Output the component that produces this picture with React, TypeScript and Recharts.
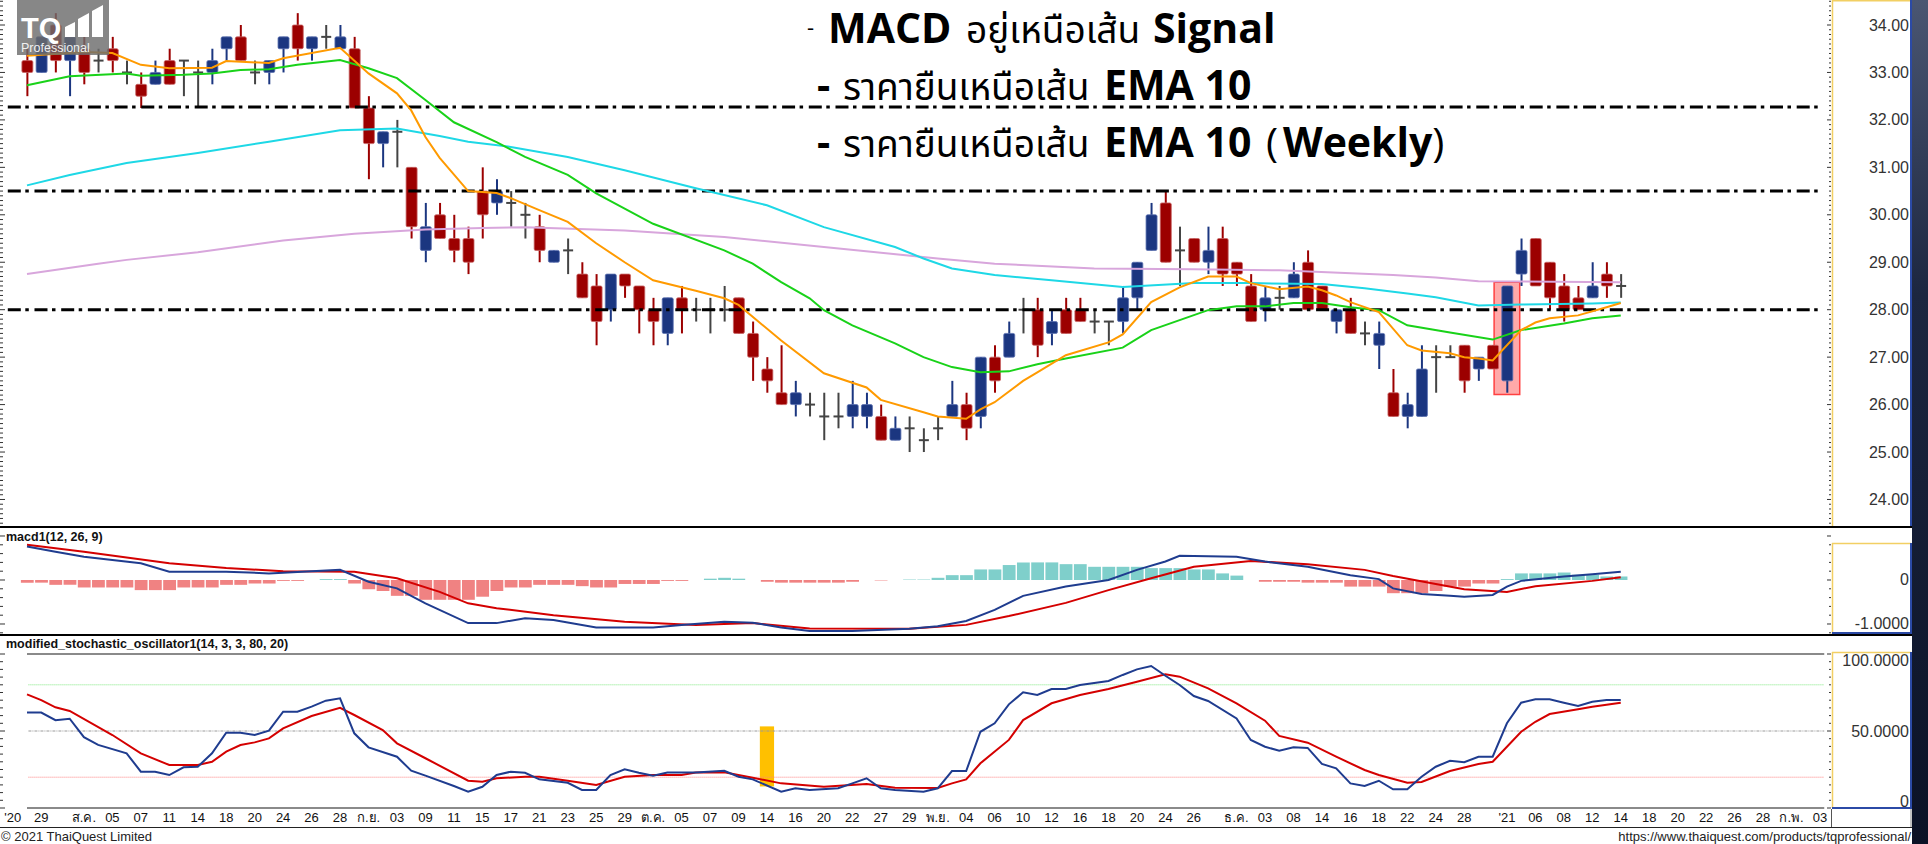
import React from "react";
import {
  ComposedChart,
  Bar,
  Line,
  XAxis,
  YAxis,
  ReferenceLine,
  ReferenceArea,
  Cell,
} from "recharts";

// ---------- price candles (one per trading day, slot 0 .. 112) ----------
const candleOpen = [
  33.25, 33.0, 34.0, 33.25, 33.5, 33.25, 33.5, 33.0, 32.75, 32.75,
  33.25, 33.25, 33.0, 33.0, 33.5, 33.75, 33.0, 33.0, 33.5, 34.0,
  33.5, 33.75, 33.5, 33.5, 32.25, 31.5, 31.75, 31.0, 29.25, 30.0,
  29.5, 29.5, 30.5, 30.25, 30.25, 30.0, 29.75, 29.0, 29.25, 28.75,
  28.5, 28.0, 28.75, 28.5, 28.0, 27.5, 28.25, 28.0, 28.0, 28.0,
  28.25, 27.5, 26.75, 26.25, 26.0, 26.0, 25.75, 25.75, 25.75, 25.75,
  25.75, 25.25, 25.5, 25.25, 25.5, 25.75, 26.0, 25.75, 27.0, 27.0,
  28.0, 28.0, 27.5, 28.0, 28.0, 27.75, 27.75, 27.75, 28.25, 29.25,
  30.25, 29.25, 29.5, 29.0, 29.5, 29.0, 28.5, 28.0, 28.25, 28.25,
  29.0, 28.5, 27.75, 28.0, 27.5, 27.25, 26.25, 25.75, 25.75, 27.0,
  27.0, 27.25, 26.75, 27.25, 26.5, 28.75, 29.5, 29.0, 28.5, 28.25,
  28.25, 28.75, 28.5,
];
const candleHigh = [
  33.5, 33.75, 34.25, 33.75, 33.75, 33.5, 33.75, 33.25, 33.0, 33.25,
  33.5, 33.25, 33.25, 33.5, 33.75, 34.0, 33.25, 33.25, 33.75, 34.25,
  33.75, 34.0, 34.0, 33.75, 32.5, 31.75, 32.0, 31.0, 30.25, 30.25,
  30.0, 29.75, 31.0, 30.75, 30.5, 30.25, 30.0, 29.25, 29.5, 29.0,
  28.75, 28.75, 28.75, 28.5, 28.25, 28.25, 28.5, 28.25, 28.25, 28.5,
  28.25, 27.75, 27.0, 27.25, 26.5, 26.25, 26.25, 26.25, 26.5, 26.25,
  26.0, 25.75, 25.75, 25.5, 25.75, 26.5, 26.25, 27.0, 27.25, 27.75,
  28.25, 28.25, 28.0, 28.25, 28.25, 28.0, 27.75, 28.5, 29.0, 30.25,
  30.5, 29.75, 29.5, 29.75, 29.75, 29.0, 28.75, 28.5, 28.5, 29.0,
  29.25, 28.5, 28.0, 28.25, 27.75, 27.75, 26.75, 26.25, 27.25, 27.25,
  27.25, 27.25, 27.0, 27.25, 28.5, 29.5, 29.5, 29.0, 28.75, 28.5,
  29.0, 29.0, 28.75,
];
const candleLow = [
  32.5, 33.0, 33.0, 32.5, 32.75, 33.0, 33.0, 32.75, 32.25, 32.75,
  32.75, 32.5, 32.25, 32.75, 33.25, 33.25, 32.75, 32.75, 33.0, 33.25,
  33.25, 33.5, 33.5, 32.25, 30.75, 31.0, 31.0, 29.5, 29.0, 29.5,
  29.0, 28.75, 29.5, 30.0, 29.75, 29.5, 29.0, 29.0, 28.75, 28.25,
  27.25, 27.75, 28.25, 27.5, 27.25, 27.25, 27.5, 27.75, 27.5, 27.75,
  27.5, 26.5, 26.25, 26.0, 25.75, 25.75, 25.25, 25.5, 25.5, 25.5,
  25.25, 25.25, 25.0, 25.0, 25.25, 25.75, 25.25, 25.5, 26.25, 27.0,
  27.5, 27.0, 27.25, 27.5, 27.75, 27.5, 27.25, 27.5, 28.0, 29.25,
  29.0, 28.5, 29.0, 28.75, 28.5, 28.5, 27.75, 27.75, 28.0, 28.25,
  28.0, 28.0, 27.5, 27.5, 27.25, 26.75, 25.75, 25.5, 25.75, 26.25,
  27.0, 26.25, 26.5, 26.75, 26.25, 28.5, 28.5, 28.0, 27.75, 28.0,
  28.25, 28.25, 28.25,
];
const candleClose = [
  33.0, 33.75, 33.25, 33.75, 33.0, 33.25, 33.25, 33.0, 32.5, 33.0,
  32.75, 33.25, 33.0, 33.25, 33.75, 33.25, 33.0, 33.25, 33.75, 33.5,
  33.75, 33.75, 33.75, 32.25, 31.5, 31.75, 31.75, 29.75, 29.75, 29.5,
  29.25, 29.0, 30.0, 30.5, 30.25, 30.0, 29.25, 29.25, 29.25, 28.25,
  27.75, 28.75, 28.5, 28.0, 27.75, 28.25, 28.0, 28.0, 28.0, 28.0,
  27.5, 27.0, 26.5, 26.0, 26.25, 26.0, 25.75, 25.75, 26.0, 26.0,
  25.25, 25.5, 25.5, 25.25, 25.5, 26.0, 25.5, 27.0, 26.5, 27.5,
  28.0, 27.25, 27.75, 27.5, 27.75, 27.75, 27.75, 28.25, 29.0, 30.0,
  29.0, 29.25, 29.0, 29.25, 28.75, 28.75, 27.75, 28.25, 28.25, 28.75,
  28.0, 28.0, 28.0, 27.5, 27.5, 27.5, 25.75, 26.0, 26.75, 27.0,
  27.0, 26.5, 27.0, 26.75, 28.5, 29.25, 28.5, 28.25, 28.0, 28.0,
  28.5, 28.5, 28.5,
];

// ---------- moving averages, read at [slot, value] ----------
const emaOrange: [number, number][] = [
  [0, 33.35], [4, 33.43], [6, 33.41], [8, 33.16], [10, 33.09], [13, 33.1], [14, 33.24],
  [17, 33.2], [18, 33.3], [22, 33.52], [24, 32.98], [26, 32.56], [27, 32.2], [28, 31.64],
  [29, 31.2], [31, 30.5], [33, 30.46], [34, 30.35], [36, 30.1], [38, 29.85], [40, 29.4],
  [42, 29.0], [44, 28.62], [47, 28.4], [49, 28.24], [50, 28.1], [53, 27.35], [56, 26.66],
  [59, 26.36], [60, 26.1], [63, 25.84], [64, 25.75], [66, 25.7], [67, 25.9], [68, 26.05],
  [70, 26.5], [71, 26.68], [73, 27.04], [76, 27.31], [77, 27.48], [79, 28.16], [81, 28.47],
  [83, 28.7], [85, 28.7], [86, 28.56], [88, 28.43], [90, 28.49], [91, 28.41], [92, 28.3],
  [93, 28.16], [95, 27.95], [97, 27.25], [98, 27.14], [100, 27.08], [101, 27.0],
  [102, 26.97], [103, 26.93], [105, 27.57], [106, 27.73], [107, 27.82], [109, 27.88],
  [111, 28.05], [112, 28.14],
];
const emaGreen: [number, number][] = [
  [0, 32.73], [3, 32.92], [7, 32.98], [8, 32.93], [11, 32.95], [13, 32.98], [15, 33.05],
  [17, 33.07], [19, 33.16], [22, 33.26], [24, 33.09], [26, 32.88], [28, 32.42], [30, 31.95],
  [33, 31.53], [35, 31.22], [38, 30.84], [40, 30.45], [44, 29.81], [49, 29.25], [51, 28.97],
  [53, 28.58], [55, 28.24], [56, 27.99], [58, 27.67], [61, 27.29], [63, 27.0], [65, 26.79],
  [67, 26.68], [69, 26.7], [71, 26.85], [73, 26.97], [77, 27.2], [79, 27.57], [83, 27.99],
  [85, 28.07], [87, 28.07], [89, 28.14], [91, 28.14], [93, 28.05], [95, 27.99], [97, 27.67],
  [100, 27.52], [103, 27.37], [105, 27.57], [108, 27.71], [110, 27.82], [112, 27.88],
];
const emaCyan: [number, number][] = [
  [0, 30.62], [3, 30.84], [7, 31.09], [12, 31.3], [17, 31.54], [22, 31.78], [26, 31.82],
  [29, 31.66], [31, 31.54], [34, 31.43], [38, 31.22], [42, 30.94], [47, 30.56], [52, 30.2],
  [56, 29.74], [61, 29.32], [63, 29.08], [65, 28.87], [68, 28.73], [72, 28.62], [77, 28.48],
  [82, 28.56], [86, 28.56], [91, 28.54], [94, 28.45], [97, 28.34], [99, 28.26], [102, 28.09],
  [105, 28.11], [110, 28.13], [112, 28.15],
];
const emaPink: [number, number][] = [
  [0, 28.75], [5, 28.97], [7, 29.05], [12, 29.21], [18, 29.46], [23, 29.6], [28, 29.69],
  [32, 29.72], [35, 29.74], [42, 29.67], [49, 29.53], [56, 29.32], [64, 29.08], [68, 28.97],
  [75, 28.87], [82, 28.85], [88, 28.83], [96, 28.73], [99, 28.68], [102, 28.6], [112, 28.58],
];

// ---------- MACD(12, 26, 9) ----------
const macdLine: [number, number][] = [
  [0, 0.76], [2, 0.64], [4, 0.53], [8, 0.38], [10, 0.19], [14, 0.19], [17, 0.15], [20, 0.2],
  [22, 0.23], [24, -0.04], [26, -0.19], [28, -0.53], [31, -0.98], [33, -0.98], [35, -0.87],
  [37, -0.91], [40, -1.08], [44, -1.08], [46, -1.02], [49, -0.95], [51, -0.97], [53, -1.08],
  [55, -1.16], [58, -1.16], [62, -1.11], [64, -1.05], [66, -0.93], [68, -0.68], [70, -0.36],
  [73, -0.15], [76, 0.0], [78, 0.23], [80, 0.42], [81, 0.55], [85, 0.53], [87, 0.42],
  [90, 0.3], [93, 0.11], [95, 0.02], [96, -0.19], [98, -0.32], [100, -0.36], [101, -0.38],
  [103, -0.34], [104, -0.15], [105, -0.02], [108, 0.08], [110, 0.13], [112, 0.19],
];
const signalLine: [number, number][] = [
  [0, 0.8], [4, 0.64], [10, 0.38], [14, 0.27], [18, 0.2], [23, 0.19], [26, 0.04],
  [29, -0.27], [31, -0.53], [33, -0.64], [37, -0.8], [42, -0.95], [47, -1.02], [51, -0.98],
  [55, -1.1], [62, -1.11], [66, -1.02], [69, -0.82], [73, -0.52], [76, -0.23], [79, 0.04],
  [82, 0.3], [86, 0.43], [90, 0.36], [94, 0.23], [96, 0.09], [99, -0.09], [101, -0.21],
  [104, -0.27], [106, -0.14], [110, -0.02], [112, 0.06],
];
const macdHist = [
  -0.06, -0.06, -0.11, -0.11, -0.17, -0.17, -0.17, -0.17, -0.23, -0.23,
  -0.23, -0.17, -0.17, -0.17, -0.11, -0.11, -0.08, -0.08, -0.02, -0.02,
  0, 0.02, 0.02, -0.08, -0.21, -0.25, -0.36, -0.36, -0.45, -0.45,
  -0.45, -0.45, -0.38, -0.25, -0.17, -0.17, -0.11, -0.11, -0.11, -0.14,
  -0.17, -0.17, -0.09, -0.09, -0.09, -0.02, -0.02, 0, 0.03, 0.05,
  0.03, 0, -0.04, -0.06, -0.06, -0.06, -0.06, -0.06, -0.04, 0,
  -0.01, 0, 0.01, 0.01, 0.05, 0.11, 0.11, 0.24, 0.24, 0.34,
  0.4, 0.4, 0.4, 0.36, 0.36, 0.3, 0.3, 0.3, 0.3, 0.27,
  0.27, 0.27, 0.24, 0.24, 0.15, 0.1, 0, -0.04, -0.04, -0.04,
  -0.06, -0.06, -0.06, -0.15, -0.15, -0.15, -0.3, -0.3, -0.3, -0.25,
  -0.15, -0.15, -0.08, -0.08, 0.02, 0.15, 0.15, 0.15, 0.17, 0.12,
  0.12, 0.08, 0.08,
];

// ---------- modified stochastic (14, 3, 3, 80, 20) ----------
const stochK: [number, number][] = [
  [0, 62], [1, 62], [2, 57], [3, 58], [4, 46], [5, 41], [7, 35.5], [8, 23.6], [9, 23.6],
  [10, 21.4], [11, 26.4], [12, 26.8], [13, 35.5], [14, 48.9], [15, 48.9], [16, 47.4],
  [17, 50.2], [18, 62.5], [19, 62.5], [20, 65.8], [21, 69.7], [22, 71.2], [23, 48.5],
  [24, 39.4], [26, 33.3], [27, 24.2], [28, 21], [30, 14.3], [31, 10.6], [32, 13.8],
  [33, 21.4], [34, 23.6], [35, 22.9], [36, 18.6], [38, 16.4], [39, 11.7], [40, 11.7],
  [41, 21.4], [42, 25.1], [43, 22.9], [44, 21], [45, 23], [47, 23], [49, 24.2], [50, 20.3],
  [51, 18.6], [53, 10.6], [54, 12.8], [55, 11.7], [57, 12.8], [58, 16], [59, 19.3],
  [60, 12.8], [61, 11.7], [63, 10.6], [64, 12.8], [65, 24], [66, 24], [67, 49.5], [68, 55],
  [69, 67.3], [70, 75.1], [71, 73.4], [72, 77.3], [73, 77.3], [74, 79.9], [76, 82.5],
  [77, 86.4], [78, 90], [79, 92.2], [80, 85.9], [81, 79.9], [82, 72.7], [83, 69.5],
  [85, 58.2], [86, 44.2], [87, 39.8], [88, 37.2], [89, 39.4], [90, 39], [91, 28.6],
  [92, 25.8], [93, 16], [94, 14.3], [95, 17.7], [96, 12.1], [97, 12.1], [98, 20.3],
  [99, 26.8], [100, 30.7], [101, 29.7], [102, 33.3], [103, 33.3], [104, 55], [105, 68.4],
  [106, 70.6], [107, 70.6], [108, 68.4], [109, 66.2], [110, 69], [111, 70.1], [112, 70.1],
];
const stochD: [number, number][] = [
  [0, 73.8], [1, 70.1], [2, 65.4], [3, 63], [6, 47.4], [8, 35.5], [10, 27.9], [12, 27.9],
  [13, 30], [14, 36.6], [15, 40.9], [16, 42.6], [17, 45.2], [18, 51.7], [20, 59.7],
  [22, 65.1], [23, 60.4], [25, 50.6], [26, 42], [28, 32.3], [31, 17.7], [32, 17.1],
  [33, 19.3], [35, 20.3], [36, 20.3], [38, 17.7], [40, 14.9], [42, 20.3], [44, 21.4],
  [46, 21.4], [47, 23], [49, 23.2], [51, 19.7], [53, 16], [56, 13.8], [59, 15.6], [61, 13.2],
  [64, 13], [65, 16], [66, 18.6], [67, 29], [69, 44.2], [70, 57.1], [72, 68], [74, 73.4],
  [76, 77.3], [78, 82], [80, 86.8], [81, 85.3], [83, 77.7], [85, 68], [87, 56.7], [88, 46.8],
  [90, 42.4], [92, 33.3], [94, 24.7], [95, 21.4], [97, 16.4], [98, 16.9], [100, 24],
  [102, 28.6], [103, 30], [105, 49.5], [106, 56], [107, 61], [109, 64.1], [110, 65.8],
  [112, 68.4],
];

// ---------- axes ----------
const priceLevels = [32.27, 30.5, 28.0];
const macdLabelled = [0, -1];
const stochLabelled = [0, 50, 100];
const xTickLabels = [
  "'20", "29", "ส.ค.", "05", "07", "11", "14", "18", "20", "24", "26", "28", "ก.ย.", "03",
  "09", "11", "15", "17", "21", "23", "25", "29", "ต.ค.", "05", "07", "09", "14", "16", "20",
  "22", "27", "29", "พ.ย.", "04", "06", "10", "12", "16", "18", "20", "24", "26", "ธ.ค.",
  "03", "08", "14", "16", "18", "22", "24", "28", "'21", "06", "08", "12", "14", "18", "20",
  "22", "26", "28", "ก.พ.", "03",
];
const xTickSlots = [
  -1, 1, 4, 6, 8, 10, 12, 14, 16, 18, 20, 22, 24, 26, 28, 30, 32, 34, 36, 38, 40, 42, 44,
  46, 48, 50, 52, 54, 56, 58, 60, 62, 64, 66, 68, 70, 72, 74, 76, 78, 80, 82, 85, 87, 89,
  91, 93, 95, 97, 99, 101, 104, 106, 108, 110, 112, 114, 116, 118, 120, 122, 124, 126,
];

// ---------- layout ----------
const CHART_W = 1912;
const AXIS_W = 80;
const XMIN = -1.8974;
const XMAX = 126.845;
const AXIS_FONT = "'Liberation Sans', Arial, sans-serif";
const TITLE_FONT = "'Open Sans', 'Noto Sans Thai', Tahoma, 'Noto Sans', sans-serif";

const toPoints = (knots: [number, number][]) => knots.map(([slot, v]) => ({ slot, v }));

const priceRows = candleOpen.map((open, i) => ({
  slot: i,
  open,
  high: candleHigh[i],
  low: candleLow[i],
  close: candleClose[i],
}));
const histRows = macdHist.map((hist, i) => ({ slot: i, hist }));

const step = (from: number, to: number, by: number) => {
  const out: number[] = [];
  for (let v = from; v <= to + 1e-9; v += by) out.push(Math.round(v * 1000) / 1000);
  return out;
};

const Candle = (props: any) => {
  const { x, y, width, height, payload } = props;
  if (x == null || !payload) return null;
  const { open, close, high, low } = payload;
  const cx = x + width / 2;
  const top = Math.min(y, y + height);
  const bot = Math.max(y, y + height);
  const span = high - low;
  const py = (v: number) => (span === 0 ? top : top + ((high - v) / span) * (bot - top));
  const up = close > open;
  const down = close < open;
  const color = up ? "#1b3680" : down ? "#9c0000" : "#444444";
  const edge = up ? "#5a70b0" : down ? "#c86464" : "#444444";
  const bTop = py(Math.max(open, close));
  const bBot = py(Math.min(open, close));
  return (
    <g>
      <line x1={cx} x2={cx} y1={top} y2={bot} stroke={color} strokeWidth={2} />
      {up || down ? (
        <rect
          x={cx - 5.5}
          y={bTop}
          width={11}
          height={Math.max(1, bBot - bTop)}
          fill={color}
          stroke={edge}
          strokeWidth={0.8}
          rx={1.5}
        />
      ) : (
        <line x1={cx - 5} x2={cx + 5} y1={bTop} y2={bTop} stroke={color} strokeWidth={2} />
      )}
    </g>
  );
};

const near = (a: number, b: number) => Math.abs(a - b) < 1e-6;

const makeRightTick =
  (
    isLabelled: (v: number) => boolean,
    isMajor: (v: number) => boolean,
    fmt: (v: number) => string,
    shift: (v: number) => number = () => 0,
  ) =>
  (props: any) => {
    const { x, y, payload } = props;
    const v = payload.value as number;
    const major = isMajor(v);
    return (
      <g>
        <line x1={x - (major ? 5 : 3)} x2={x - 1} y1={y} y2={y} stroke="#333" strokeWidth={1} />
        <line x1={0} x2={major ? 5 : 3} y1={y} y2={y} stroke="#333" strokeWidth={1} />
        {isLabelled(v) && (
          <text
            x={x + 77}
            y={y + shift(v)}
            textAnchor="end"
            dominantBaseline="central"
            fontFamily={AXIS_FONT}
            fontSize={16}
            fill="#333"
          >
            {fmt(v)}
          </text>
        )}
      </g>
    );
  };

const priceTick = makeRightTick(
  (v) => near(v, Math.round(v)) && v >= 24 && v <= 34,
  (v) => near(v, Math.round(v)),
  (v) => v.toFixed(2),
);
const macdTick = makeRightTick(
  (v) => macdLabelled.some((m) => near(m, v)),
  (v) => near(v, Math.round(v)),
  (v) => (near(v, 0) ? "0" : v.toFixed(4)),
);
const stochTick = makeRightTick(
  (v) => stochLabelled.some((m) => near(m, v)),
  (v) => near(v % 50, 0),
  (v) => (v === 0 ? "0" : v.toFixed(4)),
  (v) => (v === 100 ? 6 : v === 0 ? -7 : 0),
);

const labelBySlot = new Map(xTickSlots.map((s, i) => [s, xTickLabels[i]]));
const XTick = (props: any) => {
  const { x, y, payload } = props;
  return (
    <text x={x} y={y + 14} textAnchor="middle" fontFamily={AXIS_FONT} fontSize={13} fill="#111">
      {labelBySlot.get(payload.value)}
    </text>
  );
};

const dashDot = "13 4.5 3.5 5.7";

const SeriesLine = ({ knots, color }: { knots: [number, number][]; color: string }) => null;

export default function App() {
  const line = (knots: [number, number][], color: string, key: string) => (
    <Line
      key={key}
      data={toPoints(knots)}
      dataKey="v"
      stroke={color}
      strokeWidth={2}
      dot={false}
      activeDot={false}
      isAnimationActive={false}
    />
  );
  return (
    <div
      style={{
        position: "relative",
        width: 1928,
        height: 844,
        overflow: "hidden",
        background: "linear-gradient(180deg, #4a5672 0%, #1c2640 35%, #0b1226 100%)",
      }}
    >
      <style>{`body{margin:0}`}</style>
      <div style={{ position: "absolute", left: 0, top: 0, width: CHART_W, height: 844, background: "#fff" }} />

      {/* price panel */}
      <div style={{ position: "absolute", left: 0, top: 0 }}>
        <ComposedChart width={CHART_W} height={527} data={priceRows} margin={{ top: 0, right: 0, bottom: 0, left: 0 }}>
          <XAxis type="number" dataKey="slot" domain={[XMIN, XMAX]} allowDataOverflow hide />
          <YAxis
            orientation="right"
            width={AXIS_W}
            domain={[23.42, 34.527]}
            allowDataOverflow
            ticks={step(23.5, 34.5, 0.1)}
            interval={0}
            axisLine={false}
            tickLine={false}
            tickSize={0}
            tickMargin={0}
            tick={priceTick}
          />
          {priceLevels.map((p) => (
            <ReferenceLine
              key={p}
              segment={[
                { x: -1.35, y: p },
                { x: 126.2, y: p },
              ]}
              stroke="#000"
              strokeWidth={3}
              strokeDasharray={dashDot}
            />
          ))}
          {line(emaPink, "#d8a6dc", "pink")}
          {line(emaCyan, "#1ed8e6", "cyan")}
          <ReferenceArea
            x1={103.1}
            x2={104.9}
            y1={26.21}
            y2={28.58}
            fill="#ff7070"
            fillOpacity={0.6}
            stroke="#ff4040"
            strokeWidth={1.5}
          />
          <Bar
            dataKey={(r: any) => [r.low, r.high]}
            barSize={11}
            shape={<Candle />}
            isAnimationActive={false}
          />
          {line(emaGreen, "#19d219", "green")}
          {line(emaOrange, "#ff9a00", "orange")}
        </ComposedChart>
      </div>

      {/* MACD panel */}
      <div style={{ position: "absolute", left: 0, top: 527 }}>
        <ComposedChart width={CHART_W} height={108} data={histRows} margin={{ top: 0, right: 0, bottom: 0, left: 0 }}>
          <XAxis type="number" dataKey="slot" domain={[XMIN, XMAX]} allowDataOverflow hide />
          <YAxis
            orientation="right"
            width={AXIS_W}
            domain={[-1.25, 1.2045]}
            allowDataOverflow
            ticks={step(-1.2, 1.2, 0.2)}
            interval={0}
            axisLine={false}
            tickLine={false}
            tickSize={0}
            tickMargin={0}
            tick={macdTick}
          />
          <Bar dataKey="hist" barSize={14.5} isAnimationActive={false}>
            {histRows.map((r) => (
              <Cell key={r.slot} fill={r.hist >= 0 ? "#7fcfcb" : "#f08282"} />
            ))}
          </Bar>
          {line(signalLine, "#d40000", "signal")}
          {line(macdLine, "#1f3c8f", "macd")}
        </ComposedChart>
      </div>

      {/* stochastic panel */}
      <div style={{ position: "absolute", left: 0, top: 637 }}>
        <ComposedChart width={CHART_W} height={190} data={priceRows} margin={{ top: 0, right: 0, bottom: 0, left: 0 }}>
          <XAxis
            type="number"
            dataKey="slot"
            domain={[XMIN, XMAX]}
            allowDataOverflow
            ticks={xTickSlots}
            interval={0}
            height={19}
            axisLine={false}
            tickLine={false}
            tickSize={0}
            tickMargin={0}
            tick={<XTick />}
          />
          <YAxis
            orientation="right"
            width={AXIS_W}
            domain={[0, 111.04]}
            allowDataOverflow
            ticks={step(0, 100, 5)}
            interval={0}
            axisLine={false}
            tickLine={false}
            tickSize={0}
            tickMargin={0}
            tick={stochTick}
          />
          <ReferenceLine segment={[{ x: 0, y: 100 }, { x: 126.3, y: 100 }]} stroke="#8a8a8a" strokeWidth={2} />
          <ReferenceLine segment={[{ x: 0, y: 0 }, { x: 126.3, y: 0 }]} stroke="#8a8a8a" strokeWidth={2} />
          <ReferenceLine segment={[{ x: 0.1, y: 80 }, { x: 126.3, y: 80 }]} stroke="#7ee87e" strokeWidth={1} strokeDasharray="1 1" />
          <ReferenceLine segment={[{ x: 0.1, y: 50 }, { x: 126.3, y: 50 }]} stroke="#9a9a9a" strokeWidth={1} strokeDasharray="3 1 1 1" />
          <ReferenceLine segment={[{ x: 0.1, y: 20 }, { x: 126.3, y: 20 }]} stroke="#ff8080" strokeWidth={1} strokeDasharray="1 1" />
          <ReferenceArea x1={51.5} x2={52.5} y1={14} y2={53} fill="#ffc000" fillOpacity={1} stroke="none" />
          {line(stochD, "#d40000", "d")}
          {line(stochK, "#1f3c8f", "k")}
        </ComposedChart>
      </div>

      {/* frames, titles, logo, footer */}
      <svg width={1928} height={844} style={{ position: "absolute", left: 0, top: 0, pointerEvents: "none" }}>
        <rect x={0} y={526} width={1912} height={2} fill="#000" />
        <rect x={0} y={634} width={1912} height={2} fill="#000" />
        <rect x={0} y={827} width={1912} height={1} fill="#222" />

        <line x1={1832.5} x2={1832.5} y1={0} y2={526} stroke="#f2cf63" strokeWidth={1.5} />
        <line x1={1832} x2={1911} y1={0.75} y2={0.75} stroke="#f2cf63" strokeWidth={1.5} />
        <line x1={1911} x2={1911} y1={0} y2={526} stroke="#2b4aa6" strokeWidth={2} />

        <line x1={1832.5} x2={1832.5} y1={543} y2={634} stroke="#f2cf63" strokeWidth={1.5} />
        <line x1={1832} x2={1911} y1={543.5} y2={543.5} stroke="#f2cf63" strokeWidth={1.5} />
        <line x1={1911} x2={1911} y1={543} y2={634} stroke="#2b4aa6" strokeWidth={2} />
        <line x1={1832} x2={1912} y1={633} y2={633} stroke="#2b4aa6" strokeWidth={2} />

        <line x1={1832.5} x2={1832.5} y1={652} y2={808} stroke="#f2cf63" strokeWidth={1.5} />
        <line x1={1832} x2={1911} y1={652.5} y2={652.5} stroke="#f2cf63" strokeWidth={1.5} />
        <line x1={1911} x2={1911} y1={652} y2={809} stroke="#2b4aa6" strokeWidth={2} />
        <line x1={1832} x2={1912} y1={808} y2={808} stroke="#2b4aa6" strokeWidth={2} />
        <line x1={1831.5} x2={1831.5} y1={809} y2={827} stroke="#555" strokeWidth={1} />
        <line x1={1911} x2={1911} y1={809} y2={827} stroke="#888" strokeWidth={1} />

        <text x={6} y={541} fontFamily={AXIS_FONT} fontSize={12.5} fontWeight={700} fill="#111">
          macd1(12, 26, 9)
        </text>
        <text x={6} y={648} fontFamily={AXIS_FONT} fontSize={12.5} fontWeight={700} fill="#111">
          modified_stochastic_oscillator1(14, 3, 3, 80, 20)
        </text>

        <g fontFamily={TITLE_FONT} fill="#000" fontSize={41}>
          <text x={807} y={43}>
            <tspan fontSize={22} dy={-8}>-</tspan>
            <tspan x={828} dy={8} fontWeight={700}>MACD</tspan>
            <tspan x={966} fontSize={37} fontWeight={400}>อยู่เหนือเส้น</tspan>
            <tspan x={1153} fontWeight={700}>Signal</tspan>
          </text>
          <text x={817} y={100}>
            <tspan fontWeight={700}>-</tspan>
            <tspan x={843} fontSize={37} fontWeight={400}>ราคายืนเหนือเส้น</tspan>
            <tspan x={1104} fontWeight={700}>EMA 10</tspan>
          </text>
          <text x={817} y={157}>
            <tspan fontWeight={700}>-</tspan>
            <tspan x={843} fontSize={37} fontWeight={400}>ราคายืนเหนือเส้น</tspan>
            <tspan x={1104} fontWeight={700}>EMA 10</tspan>
            <tspan x={1266} fontWeight={400}>(</tspan>
            <tspan x={1283} fontWeight={700}>Weekly</tspan>
            <tspan fontWeight={400}>)</tspan>
          </text>
        </g>

        <g>
          <rect x={17} y={0} width={92} height={55} fill="#6c6c6c" fillOpacity={0.82} />
          <text x={21} y={38} fontFamily={AXIS_FONT} fontSize={29} fontWeight={700} fill="#fff">
            TQ
          </text>
          <polygon points="65,37 75,37 75,22 65,27" fill="#fff" />
          <polygon points="78,37 89,37 89,13 78,19" fill="#fff" />
          <polygon points="92,37 103,37 103,5 92,11" fill="#fff" />
          <text x={21} y={52} fontFamily={AXIS_FONT} fontSize={12.5} fill="#fff" fillOpacity={0.9}>
            Professional
          </text>
        </g>

        <text x={1} y={841} fontFamily={AXIS_FONT} fontSize={13} fill="#222">
          © 2021 ThaiQuest Limited
        </text>
        <text x={1911} y={841} textAnchor="end" fontFamily={AXIS_FONT} fontSize={13} fill="#222">
          https://www.thaiquest.com/products/tqprofessional/
        </text>
      </svg>
    </div>
  );
}
